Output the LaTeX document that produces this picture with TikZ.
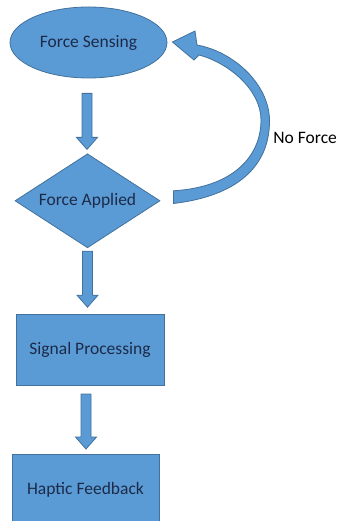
\documentclass[tikz,border=0pt]{standalone}
\usepackage{fontspec}
\setmainfont{Carlito}
\usetikzlibrary{shapes.geometric, positioning, calc}
\definecolor{boxfill}{HTML}{5B9BD5}
\definecolor{boxline}{HTML}{41719C}
\definecolor{boxtext}{HTML}{1C2A48}
\tikzset{%
  sensor/.style = {ellipse, draw=boxline, fill=boxfill, minimum width=157pt, minimum height=71pt, inner sep=0pt},
  decision/.style = {diamond, draw=boxline, fill=boxfill, shape aspect=1.54, minimum width=145pt, minimum height=94pt, inner sep=0pt},
  process/.style = {rectangle, draw=boxline, fill=boxfill, minimum width=148pt, minimum height=71pt},
  blockarrow/.style = {draw=boxline, fill=boxfill, line join=miter},
  note/.style = {inner sep=0pt, text=black}
}
% fat downward arrow from #1 to #2 (x taken from #1)
\newcommand{\blockarrow}[2]{%
  \draw[blockarrow] let \p1=(#1), \p2=(#2) in
    (\x1-5pt,\y1) -- (\x1+5pt,\y1) -- (\x1+5pt,\y2+12pt) -- (\x1+10.5pt,\y2+12pt)
    -- (\x1,\y2) -- (\x1-10.5pt,\y2+12pt) -- (\x1-5pt,\y2+12pt) -- cycle;}

\begin{document}
\begin{tikzpicture}[x=1pt, y=-1pt, line width=0.8pt,
    every node/.style={font=\fontsize{17.5}{21}\selectfont, text=boxtext}]
    \useasboundingbox (0,0) rectangle (338,521);

    \node (sense)   [sensor] at (88.5,42.5)                    {Force Sensing};
    \node (applied) [decision, below = 75pt of sense, xshift=-1pt]  {Force Applied};
    \node (proc)    [process, below = 66pt of applied, xshift=2.5pt] {Signal Processing};
    \node (haptic)  [process, below = 68pt of proc, xshift=-4.5pt, minimum width=147pt] {Haptic Feedback};
    \node (noforce) [note, anchor=west] at (273,138)           {No Force};

    \blockarrow{$(sense.south)+(-1.5,15)$}{$(applied.north)+(0,-4)$}
    \blockarrow{$(applied.south)+(0,3)$}{$(proc.north)+(0,-7)$}
    \blockarrow{$(proc.south)+(-4,8)$}{$(haptic.north)+(0,-5)$}

    % loop back when no force is applied
    \draw[blockarrow] ($(applied.east)+(13,2.7)$) .. controls (245,195) and (270,160) .. (269.5,120)
        .. controls (269,85) and (235,52) .. (197,45) -- (195,31) -- ($(sense.east)+(5,-0.5)$)
        -- (194,60) -- (199,55) .. controls (229,63) and (261,90) .. (261,120)
        .. controls (261,155) and (235,187) .. ($(applied.east)+(13,-10)$) -- cycle;

  \end{tikzpicture}
\end{document}
